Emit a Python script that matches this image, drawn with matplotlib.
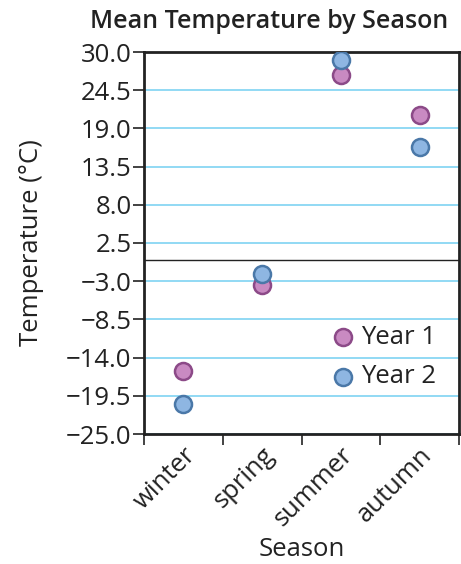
import matplotlib
matplotlib.use("Agg")
import matplotlib.pyplot as plt
import numpy as np

plt.rcParams['font.family'] = ['Open Sans', 'DejaVu Sans']

seasons = ["winter", "spring", "summer", "autumn"]
year1 = [-15.9, -3.5, 26.7, 20.9]
year2 = [-20.7, -2.0, 28.8, 16.3]
yticks = [30.0, 24.5, 19.0, 13.5, 8.0, 2.5, -3.0, -8.5, -14.0, -19.5, -25.0]

fig = plt.figure(figsize=(4.61, 5.64), dpi=100)
ax = fig.add_axes([144/461, 1-434/564, (459-144)/461, (434-52)/564])

x = np.arange(len(seasons))
ax.set_xlim(-0.5, len(seasons)-0.5)
ax.set_ylim(-25, 30)

for t in yticks:
    ax.axhline(t, color='#7fd3f2', lw=1.2, zorder=0)
ax.axhline(0, color='#222222', lw=1.0, zorder=1)

ax.scatter(x, year1, s=150, color='#c98ac2', edgecolor='#8c4a88', linewidth=1.8, zorder=3, label='Year 1')
ax.scatter(x, year2, s=150, color='#8eb6e2', edgecolor='#4a78a8', linewidth=1.8, zorder=3, label='Year 2')

fs = 18.5
ax.set_yticks(yticks)
ax.set_yticklabels([f"{v:.1f}".replace('-', '\u2212') for v in yticks], fontsize=fs, color='#222222')
ax.set_xticks(np.arange(-0.5, len(seasons)), minor=False)
ax.set_xticklabels([])
ax.set_xticks(x, minor=True)
ax.set_xticklabels(seasons, minor=True, rotation=45, ha='right', va='top', rotation_mode='anchor', fontsize=fs, color='#222222')
ax.tick_params(axis='x', which='minor', length=0, pad=6)
ax.tick_params(axis='x', which='major', length=8, width=1.2, color='#222222')
ax.tick_params(axis='y', length=8, width=1.2, color='#222222', pad=1)

for s in ax.spines.values():
    s.set_linewidth(2)
    s.set_color('#222222')

ax.set_ylabel("Temperature (°C)", fontsize=fs, color='#222222', labelpad=16)
ax.set_xlabel("Season", fontsize=fs, color='#222222', labelpad=4)
fig.text(448/461, 1-22/564, "Mean Temperature by Season", fontsize=18, fontweight='semibold',
         color='#222222', ha='right', va='center')

leg = ax.legend(loc='lower right', frameon=False, fontsize=fs, handlelength=1.0, handletextpad=0.2,
                borderaxespad=0.3, bbox_to_anchor=(0.984, 0.07), labelspacing=0.55)
for t in leg.get_texts():
    t.set_color('#222222')

fig.savefig("out.png", dpi=100)
